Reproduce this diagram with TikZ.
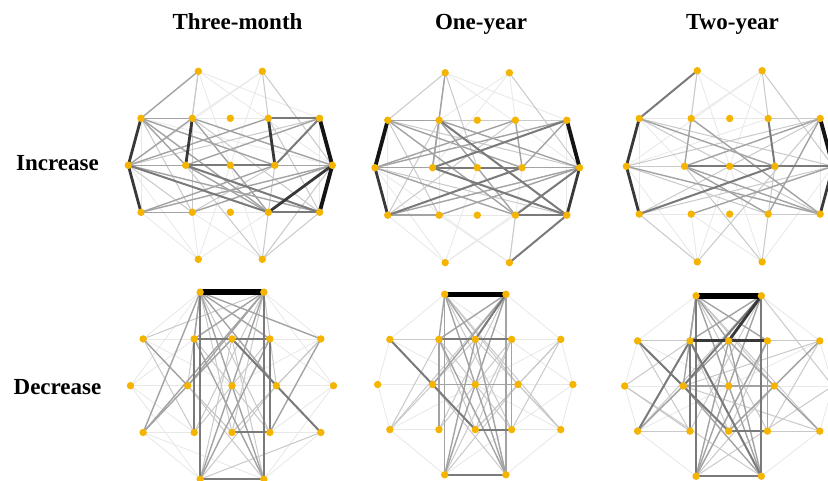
\documentclass[tikz,border=0pt]{standalone}
\usepackage{fontspec}
\setmainfont{Liberation Serif}
\definecolor{dotc}{HTML}{F4B400}
\tikzset{
  e1/.style={draw=black!9, line width=0.8pt},
  e2/.style={draw=black!21, line width=1.0pt},
  e3/.style={draw=black!36, line width=1.4pt},
  e4/.style={draw=black!52, line width=2.0pt},
  e5/.style={draw=black!78, line width=2.8pt},
  e6/.style={draw=black!92, line width=3.8pt},
  e7/.style={draw=black, line width=5.5pt},
  lbl/.style={font=\bfseries\fontsize{23}{23}\selectfont, anchor=base, inner sep=0pt},
}
\newcommand\mkpanel[5]{%
  \coordinate (#1T1) at ({#2-32*#4},{#3-94*#5});
  \coordinate (#1T2) at ({#2+32*#4},{#3-94*#5});
  \coordinate (#1A1) at ({#2-89.3*#4},{#3-47*#5});
  \coordinate (#1A2) at ({#2-38*#4},{#3-47*#5});
  \coordinate (#1A3) at ({#2},{#3-47*#5});
  \coordinate (#1A4) at ({#2+38*#4},{#3-47*#5});
  \coordinate (#1A5) at ({#2+89.3*#4},{#3-47*#5});
  \coordinate (#1B1) at ({#2-102*#4},{#3});
  \coordinate (#1B2) at ({#2-44.6*#4},{#3});
  \coordinate (#1B3) at ({#2},{#3});
  \coordinate (#1B4) at ({#2+44.6*#4},{#3});
  \coordinate (#1B5) at ({#2+102*#4},{#3});
  \coordinate (#1C1) at ({#2-89.3*#4},{#3+47*#5});
  \coordinate (#1C2) at ({#2-38*#4},{#3+47*#5});
  \coordinate (#1C3) at ({#2},{#3+47*#5});
  \coordinate (#1C4) at ({#2+38*#4},{#3+47*#5});
  \coordinate (#1C5) at ({#2+89.3*#4},{#3+47*#5});
  \coordinate (#1D1) at ({#2-32*#4},{#3+94*#5});
  \coordinate (#1D2) at ({#2+32*#4},{#3+94*#5});
}
\newcommand\pedges[3]{\foreach \a/\b in {#3}{\draw[#2, line cap=round] (#1\a) -- (#1\b);}}
\newcommand\drawdots[1]{\foreach \n in {T1,T2,A1,A2,A3,A4,A5,B1,B2,B3,B4,B5,C1,C2,C3,C4,C5,D1,D2}{\fill[dotc] (#1\n) circle (3.7pt);}}
\begin{document}
\begin{tikzpicture}[x=1pt,y=-1pt]
\clip (0,0) rectangle (828,481);
\fill[white] (0,0) rectangle (828,481);
% labels
\node[lbl] (t1) at (237.5,30) {Three-month};
\node[lbl] (t2) at (481,30) {One-year};
\node[lbl] (t3) at (732.5,30) {Two-year};
\node[lbl] (r1) at (57.5,171) {Increase};
\node[lbl] (r2) at (57.5,394) {Decrease};
% panels
\mkpanel{p1}{230.3}{165.3}{1}{1}
\mkpanel{p2}{477.3}{167.7}{1.003}{1.01}
\mkpanel{p3}{729.7}{166.3}{1.013}{1.017}
\mkpanel{p4}{232}{385.7}{0.995}{0.995}
\mkpanel{p5}{475.3}{384.5}{0.957}{0.96}
\mkpanel{p6}{728.7}{386}{1.02}{0.96}
% ---- panel 1
\pedges{p1}{e1}{T1/B3,T1/A5,T1/B5,T2/A2,T2/B1,T2/B3,D1/C1,D1/B1,D1/C2,D1/B3,D1/C4,D2/B3,D2/C2,A2/A4,A1/C1,A5/C5,C2/C4,A1/B5}
\pedges{p1}{e2}{T1/A2,T1/B2,T2/A4,T2/B5,D2/C4,D2/C5,D2/B5,D2/B2,A1/C2,A2/C5,B1/A5,C2/B4,B1/C2,A2/C2,B4/C4,A4/C5}
\pedges{p1}{e3}{T1/A1,A1/A2,B1/B2,B4/B5,C1/C2,A1/B2,A1/B4,A1/C4,A2/B1,A2/B5,A2/C4,B1/A4,B1/C5,B2/C4,A5/B2,C1/B4,C1/B5,C2/B5}
\pedges{p1}{e4}{A4/A5,C4/C5,B2/B4,A5/B4,B1/C4,B2/C5}
\pedges{p1}{e5}{B1/C1,A2/B2,A4/B4,C4/B5,A1/B1}
\pedges{p1}{e6}{A5/B5,B5/C5}
\drawdots{p1}
% ---- panel 2
\pedges{p2}{e1}{T1/A5,T1/B5,T2/A2,T2/B2,T2/A4,D1/C1,D1/B1,D1/C4,D1/B3,D1/B5,D2/B4,D2/C2,D2/B1,A1/C1,A5/C5,A2/C2,C2/C4}
\pedges{p2}{e2}{T1/A1,T1/A2,T1/B3,T2/B5,D2/C4,A4/A5,A2/A4,B1/C5,A1/C2,C1/A2,A1/B5,C1/A4}
\pedges{p2}{e3}{A1/A2,B1/B2,C1/C2,A2/B2,A4/B4,A2/C4,A1/B4,A1/C4,B1/A4,B1/A5,C1/B5,B1/C4,T1/B2,B4/B5,A2/B5,C2/B5,A5/B4}
\pedges{p2}{e4}{B2/B4,C4/C5,B2/A5,C4/B5,D2/C5,C1/B4,B2/C5,A2/C5}
\pedges{p2}{e5}{B1/C1,B5/C5}
\pedges{p2}{e6}{A1/B1,A5/B5}
\drawdots{p2}
% ---- panel 3
\pedges{p3}{e1}{T1/A4,T1/B3,T1/B2,T2/A2,T2/B3,D1/B1,D1/C2,D1/B3,D2/C2,D2/B3,A1/C1,A2/A4,C1/C2,A1/B2,B1/A4,C2/C4,A5/C5,A1/A2,T2/B1,D2/B5}
\pedges{p3}{e2}{T1/A2,T2/A4,T2/B5,D1/C1,D2/C4,D2/B2,D1/A5,A4/A5,B1/B2,A1/B5,A1/C5,B1/C4,B1/A5,C4/C5,B4/C4,C1/B5,C1/A5}
\pedges{p3}{e3}{A2/B2,B2/A5,B2/C5,A2/C5,B1/C5,C2/B5,C4/A5,B2/C4,A1/B4}
\pedges{p3}{e4}{T1/A1,A4/B4,B2/B4,B4/B5,C1/B4}
\pedges{p3}{e5}{A1/B1,B1/C1,B5/C5}
\pedges{p3}{e6}{A5/B5}
\drawdots{p3}
% ---- panel 4
\pedges{p4}{e1}{B1/B5,A1/A2,A4/A5,C1/C2,C4/C5,B1/A2,B1/C2,B5/A4,B5/C4,T1/A1,T2/A5,D1/C1,D2/C5,T2/B5,D1/B1,D2/B5,A1/B3,A5/B3,T1/B1,D2/C1}
\pedges{p4}{e2}{T1/C3,T2/C3,D1/A3,D2/A3,T1/B2,T2/B4,D1/B4,D2/B2,A5/B4,B4/C5,A1/C3,A5/C3,T1/C4,T2/C2,A2/C4,A4/C2,B2/C3,B4/C3,B2/A3,B4/A3,T2/A1,A1/C2,D1/C5}
\pedges{p4}{e3}{T1/A2,T1/A4,T1/A5,T1/B4,T2/A2,T2/B2,T2/C1,D1/T2,D2/T1,D1/A4,C1/T1,C1/A3,A1/B2,D2/A2,A5/C4}
\pedges{p4}{e4}{T1/D1,T2/D2,A2/C2,A4/C4,A2/A4,C3/C4,D1/D2,A3/C5}
\pedges{p4}{e7}{T1/T2}
\drawdots{p4}
% ---- panel 5
\pedges{p5}{e1}{B1/B2,B4/B5,A1/B1,B1/C1,A5/B5,B5/C5,T1/A1,T2/A5,D1/C1,D2/C5,A4/A5,C1/C2,C4/C5,A1/B3,C1/B3,A5/B3,C5/B3,T1/B5,D1/B5}
\pedges{p5}{e2}{A1/A2,T1/C4,T2/C2,D1/A4,T1/B4,T2/C1,C1/A3,C5/A3,A5/C4,A5/B4,A1/B2,C5/B4,D1/B4,D2/B2,A2/C3,A4/C3,B2/C3,B4/C3,T1/C5,C2/A4,A2/C4,A5/C3,C1/A2}
\pedges{p5}{e3}{T1/D1,T2/D2,A2/C2,A4/C4,B2/B4,T1/A2,T1/A3,T2/A2,T2/B2,D2/A3,D2/A2,D1/A3,T1/D2,T2/D1}
\pedges{p5}{e4}{A2/A4,C3/C4,D1/D2,T2/A3,A1/C3}
\pedges{p5}{e7}{T1/T2}
\drawdots{p5}
% ---- panel 6
\pedges{p6}{e1}{A1/B1,B1/C1,T1/A1,T2/A5,D1/C1,D2/C5,A1/B3,A5/B3,B1/B2,B4/B5,A5/B5,B5/C5,C1/B3}
\pedges{p6}{e2}{T1/C4,T2/C2,D1/A4,D2/A2,A1/A2,A4/A5,C1/C2,C4/C5,T1/B4,T2/B5,D1/B4,D1/B5,D2/B1,A1/C2,A5/C4,A5/B4,C5/B4,A2/C3,A4/C3,B2/C3,B4/C3,C1/B2,T1/C5,T2/C1,B1/A2,B1/C2,A5/B2,C5/B2}
\pedges{p6}{e3}{A4/C4,B2/B4,T1/A2,T1/A3,T1/A4,T2/A2,D1/A3,D2/A3,D1/T2,D2/T1,C1/A3,A3/C5,A5/C3,A1/B2,B2/D2,A4/D1,T1/B2}
\pedges{p6}{e4}{T1/D1,T2/D2,A2/C2,C3/C4,D1/D2,T2/B2,C1/A2,A1/C3,A2/D2}
\pedges{p6}{e5}{A2/A4,T2/A3}
\pedges{p6}{e7}{T1/T2}
\drawdots{p6}
\end{tikzpicture}
\end{document}
